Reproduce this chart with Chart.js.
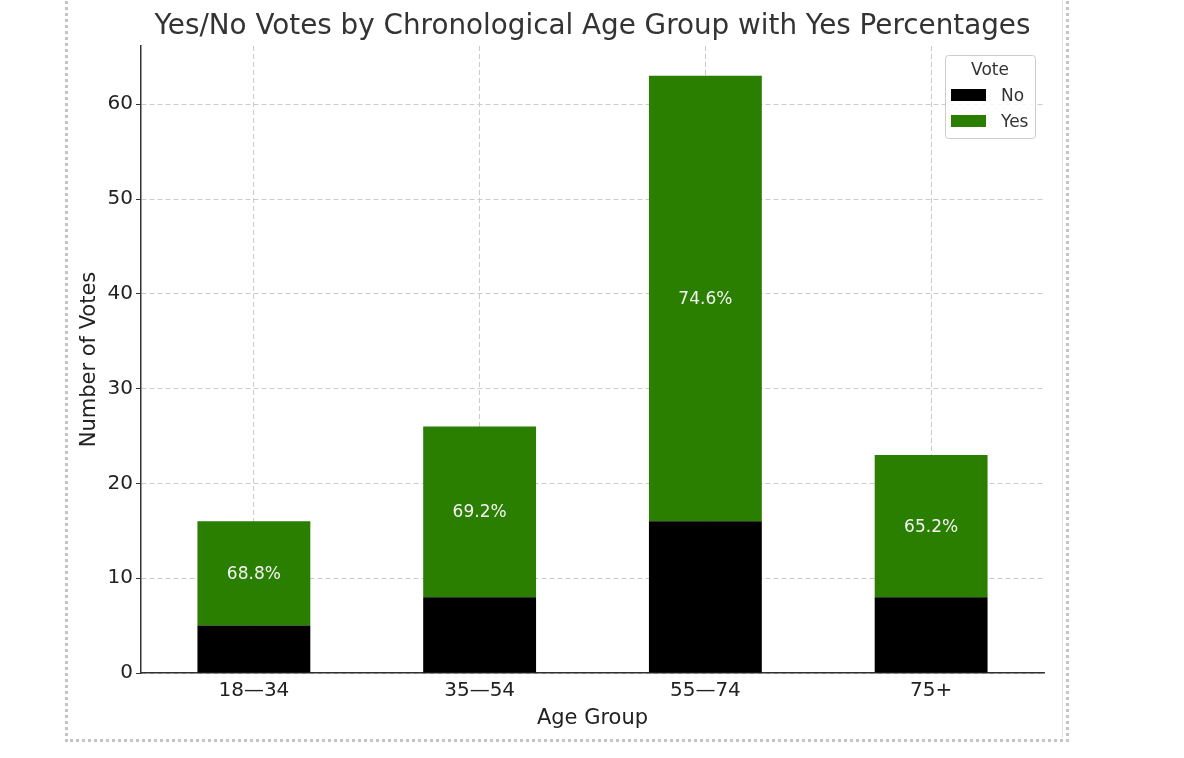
<!DOCTYPE html>
<html lang="en">
<head>
<meta charset="UTF-8">
<title>Yes/No Votes by Age Group</title>
<script src="https://cdn.jsdelivr.net/npm/chart.js@4.4.0/dist/chart.umd.min.js"></script>
<style>
  body { margin: 0; background: #fff; }
  #frame { position: absolute; left: 65px; top: -10px; width: 1004px; height: 752px;
           box-sizing: border-box; border: 3px dotted #c4c4c4; }
  #edge { position: absolute; left: 1062px; top: 0; width: 1px; height: 738px; background: #e4e4e4; }
  canvas { position: absolute; left: 0; top: 0; }
</style>
</head>
<body>
<div id="frame"></div>
<div id="edge"></div>
<canvas id="myChart" width="1184" height="758"></canvas>

<script>
// data
const ageGroups = ["18\u201434", "35\u201454", "55\u201474", "75+"];
const noVotes = [5, 8, 16, 8];
const yesVotes = [11, 18, 47, 15];
const yTicks = [0, 10, 20, 30, 40, 50, 60];
const chartTitle = "Yes/No Votes by Chronological Age Group with Yes Percentages";

const font = "'DejaVu Sans', sans-serif";
const green = "#2a7e00";

// title centred over the plot area (not the whole canvas)
const plotTitle = {
  id: "plotTitle",
  afterDraw(chart) {
    const ctx = chart.ctx;
    const area = chart.chartArea;
    ctx.save();
    ctx.fillStyle = "#333";
    ctx.font = "27.8px " + font;
    ctx.textAlign = "center";
    ctx.textBaseline = "middle";
    ctx.fillText(chartTitle, (area.left + area.right) / 2, 27);
    ctx.restore();
  }
};

// percentage of yes votes, written in the middle of the green part
const pctLabels = {
  id: "pctLabels",
  afterDraw(chart) {
    const ctx = chart.ctx;
    const meta = chart.getDatasetMeta(1);
    ctx.save();
    ctx.fillStyle = "#f4f4f4";
    ctx.font = "17px " + font;
    ctx.textAlign = "center";
    ctx.textBaseline = "middle";
    meta.data.forEach((bar, i) => {
      const p = bar.getProps(["x", "y", "base"], true);
      const pct = yesVotes[i] / (yesVotes[i] + noVotes[i]) * 100;
      ctx.fillText(pct.toFixed(1) + "%", p.x, (p.y + p.base) / 2 + 1);
    });
    ctx.restore();
  }
};

// legend box inside the plot, top right
const voteLegend = {
  id: "voteLegend",
  afterDraw(chart) {
    const ctx = chart.ctx;
    const area = chart.chartArea;
    const w = 90, h = 83;
    const x = area.right - 9 - w, y = area.top + 9;
    ctx.save();
    ctx.fillStyle = "rgba(255,255,255,0.85)";
    ctx.strokeStyle = "#cccccc";
    ctx.lineWidth = 1;
    ctx.beginPath();
    ctx.roundRect(x + 0.5, y + 0.5, w, h, 3);
    ctx.fill();
    ctx.stroke();
    ctx.font = "17px " + font;
    ctx.fillStyle = "#333";
    ctx.textBaseline = "middle";
    ctx.textAlign = "center";
    ctx.fillText("Vote", x + w / 2, y + 16);
    chart.data.datasets.forEach((ds, i) => {
      const ry = y + 40 + i * 26;
      ctx.fillStyle = ds.backgroundColor;
      ctx.fillRect(x + 6, ry - 6, 35, 12);
      ctx.fillStyle = "#333";
      ctx.textAlign = "left";
      ctx.fillText(ds.label, x + 56, ry + 2);
    });
    ctx.restore();
  }
};

new Chart("myChart", {
  type: "bar",
  data: {
    labels: ageGroups,
    datasets: [
      { label: "No", data: noVotes, backgroundColor: "#000000" },
      { label: "Yes", data: yesVotes, backgroundColor: green }
    ]
  },
  options: {
    responsive: false,
    animation: false,
    layout: { padding: { left: 0, right: 140, top: 46, bottom: 0 } },
    datasets: { bar: { barPercentage: 0.5, categoryPercentage: 1 } },
    plugins: {
      legend: { display: false },
      tooltip: { enabled: false },
      title: { display: false }
    },
    scales: {
      x: {
        stacked: true,
        z: 1,
        offset: true,
        grid: { offset: false, color: "#cbcbcb", lineWidth: 1, drawTicks: false },
        border: { display: true, color: "#333", width: 1.5, dash: [5, 3] },
        ticks: { color: "#222", font: { family: font, size: 20 }, padding: 6 },
        title: { display: true, text: "Age Group", color: "#222",
                 font: { family: font, size: 21 }, padding: { top: 0, bottom: 27 } },
        afterFit(scale) { scale.height = 85; }
      },
      y: {
        stacked: true,
        z: 1,
        min: 0,
        max: 66.15,
        grid: { color: "#cbcbcb", lineWidth: 1, tickColor: "#333", tickLength: 5, tickBorderDash: [] },
        border: { display: true, color: "#333", width: 1.5, dash: [5, 3] },
        afterBuildTicks(scale) { scale.ticks = yTicks.map(v => ({ value: v })); },
        ticks: { color: "#222", font: { family: font, size: 20 }, padding: 3 },
        title: { display: true, text: "Number of Votes", color: "#222",
                 font: { family: font, size: 21 }, padding: { top: 77, bottom: 0 } },
        afterFit(scale) { scale.width = 141; }
      }
    }
  },
  plugins: [plotTitle, pctLabels, voteLegend]
});
</script>
</body>
</html>
